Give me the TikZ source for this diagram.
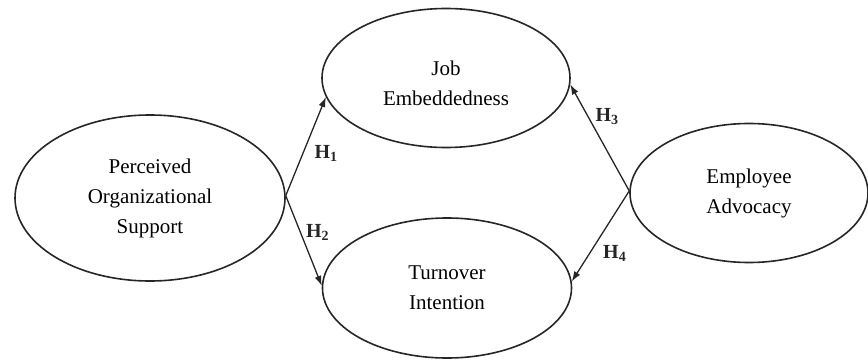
\documentclass[tikz,border=0pt]{standalone}
\usepackage{fontspec}
\setmainfont{Liberation Serif}
\usetikzlibrary{shapes.geometric,arrows.meta}

\begin{document}
\begin{tikzpicture}[
	x=1pt,y=-1pt,
	construct/.style={
		ellipse,
		draw=black!85,
		line width=1.6pt,
		align=center,
		inner sep=0pt,
		font=\fontsize{21}{30}\selectfont
	},
	hpath/.style={-{Latex[length=10pt,width=7pt]},line width=1.3pt,black!85},
	hyp/.style={font=\fontsize{20}{24}\selectfont\bfseries,inner sep=2pt}
]
\useasboundingbox (0,0) rectangle (868,361);

% Constructos
\node[construct,minimum width=270pt,minimum height=166pt] (pos) at (150,198) {Perceived\\Organizational\\Support};
\node[construct,minimum width=248pt,minimum height=139pt] (je) at (446,78) {\mbox{}\\[-4pt]Job\\Embeddedness};
\node[construct,minimum width=249pt,minimum height=140pt] (ti) at (447,288) {Turnover\\Intention};
\node[construct,minimum width=238pt,minimum height=139pt] (ea) at (749,193) {Employee\\Advocacy};

% Hipotesis
\draw[hpath] (pos.1) -- node[hyp,right,pos=0.43,xshift=9pt]{H\textsubscript{1}} (je.189);
\draw[hpath] (pos.1) -- node[hyp,right,pos=0.41,xshift=3pt]{H\textsubscript{2}} (ti.179);
\draw[hpath] (ea.179) -- node[hyp,right,pos=0.7,xshift=5pt]{H\textsubscript{3}} (je.357);
\draw[hpath] (ea.179) -- node[hyp,right,pos=0.69,xshift=11pt]{H\textsubscript{4}} (ti.3);

\end{tikzpicture}
\end{document}
